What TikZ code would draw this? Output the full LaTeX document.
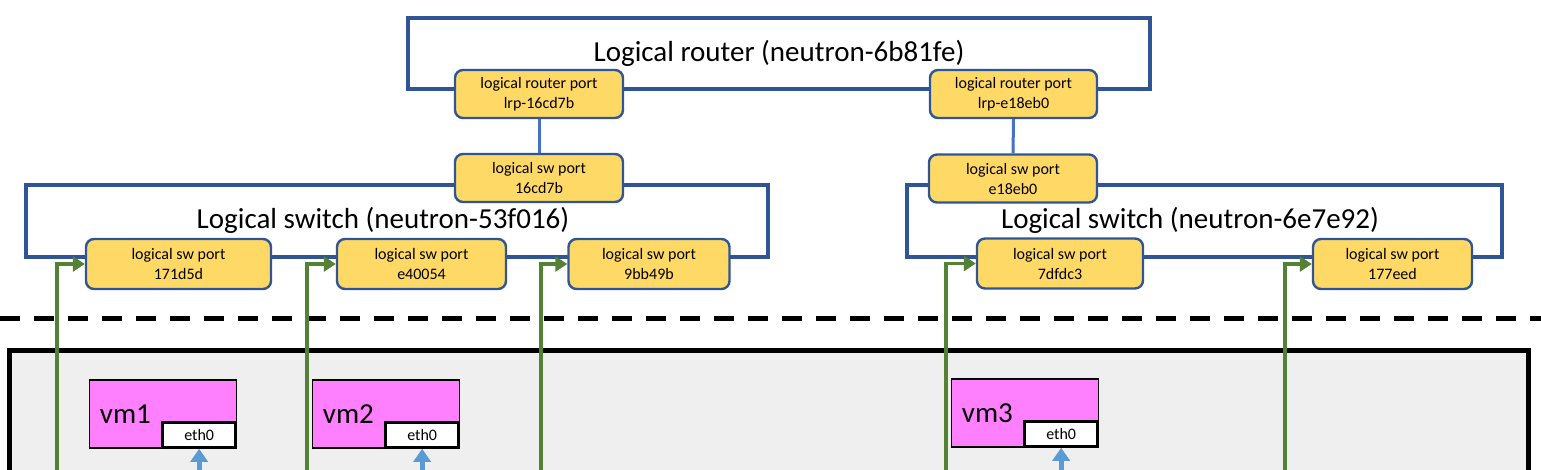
\documentclass[tikz,border=0pt]{standalone}
\usepackage{fontspec}
\setmainfont{Carlito}
\usetikzlibrary{positioning,arrows.meta}
\definecolor{cNavy}{HTML}{2F5597}
\definecolor{cGold}{HTML}{FFD966}
\definecolor{cWire}{HTML}{4472C4}
\definecolor{cFeed}{HTML}{548235}
\definecolor{cNic}{HTML}{5B9BD5}
\definecolor{cVm}{HTML}{FF80FF}
\definecolor{cHost}{HTML}{EFEFEF}
\tikzset{
  grp/.style={rectangle,draw=cNavy,line width=4.5pt,inner sep=0pt,font=\fontsize{29}{34}\selectfont},
  grptitle/.style={inner sep=0pt,font=\fontsize{29}{34}\selectfont},
  port/.style={rectangle,rounded corners=8pt,draw=cNavy,line width=2.4pt,fill=cGold,align=center,inner sep=0pt,minimum height=48pt,font=\fontsize{16}{20}\selectfont},
  wire/.style={cWire,line width=3pt},
  feed/.style={-{Triangle[length=12pt,width=15pt]},cFeed,line width=3.5pt},
  nicarrow/.style={-{Triangle[length=13pt,width=17pt]},cNic,line width=5pt},
  host/.style={rectangle,draw=black,line width=5pt,fill=cHost,inner sep=0pt},
  sep/.style={black,line width=5pt,dash pattern=on 20pt off 14pt},
  vm/.style={rectangle,draw=black,line width=1.5pt,fill=cVm,inner sep=0pt,minimum width=147pt,minimum height=68pt},
  vmname/.style={inner sep=0pt,font=\fontsize{29}{34}\selectfont},
  nic/.style={rectangle,draw=black,line width=3.2pt,fill=white,inner sep=0pt,minimum width=73pt,minimum height=25pt,font=\fontsize{16}{20}\selectfont},
}
\begin{document}
\begin{tikzpicture}[x=1pt,y=-1pt]
  \useasboundingbox (0,0) rectangle (1541,469);
  \clip (0,0) rectangle (1541,469);
  \coordinate (bot) at (0,480);
  % compute host
  \node[host,minimum width=1518.5,minimum height=150] (hv) at (768.75,425) {};
  \draw[sep] (0,318) -- (1541,318);
  % logical router
  \node[grp,minimum width=742,minimum height=71] (lr) at (779,53.5) {Logical router (neutron-6b81fe)};
  \node[port,minimum width=168] (lrp1) at (539,94) {logical router port\\lrp-16cd7b};
  \node[port,minimum width=167] (lrp2) at (1013.5,94) {logical router port\\lrp-e18eb0};
  % logical switches
  \node[grp,minimum width=742,minimum height=72] (ls1) at (397,221) {};
  \node[grptitle] (ls1t) at (383,220) {Logical switch (neutron-53f016)};
  \node[grp,minimum width=595,minimum height=72] (ls2) at (1204.5,221) {};
  \node[grptitle] (ls2t) at (1190,220) {Logical switch (neutron-6e7e92)};
  \node[port,minimum width=168] (lsp1) at (539,178) {logical sw port\\16cd7b};
  \node[port,minimum width=168] (lsp2) at (1013,178.5) {logical sw port\\e18eb0};
  \draw[wire] (lrp1.south) -- (lsp1.north);
  \draw[wire] (lrp2.south) -- (lsp2.north);
  \node[port,minimum width=185,minimum height=50] (p1) at (178.5,264) {logical sw port\\171d5d};
  \node[port,minimum width=169,minimum height=50] (p2) at (421.5,264) {logical sw port\\e40054};
  \node[port,minimum width=161,minimum height=50] (p3) at (649,264) {logical sw port\\9bb49b};
  \node[port,minimum width=166,minimum height=50] (p4) at (1060,263.5) {logical sw port\\7dfdc3};
  \node[port,minimum width=159,minimum height=50] (p5) at (1392.5,264) {logical sw port\\177eed};
  \foreach \x/\p in {57/p1,307/p2,541/p3,946/p4,1285/p5} {
    \coordinate (up\p) at (\x,480);
    \draw[feed] (up\p) |- (\p.west);
  }
  % vms
  \node[vm] (vm1) at (163,414) {};
  \node[vm] (vm2) at (386,414) {};
  \node[vm] (vm3) at (1025,413) {};
  \foreach \v in {1,2,3} {
    \node[vmname,anchor=west] (vm\v n) at ([xshift=11pt]vm\v.west) {vm\v};
    \node[nic,anchor=south east] (eth\v) at (vm\v.south east) {eth0};
    \draw[nicarrow] (eth\v.south |- bot) -- (eth\v.south);
  }
\end{tikzpicture}
\end{document}
